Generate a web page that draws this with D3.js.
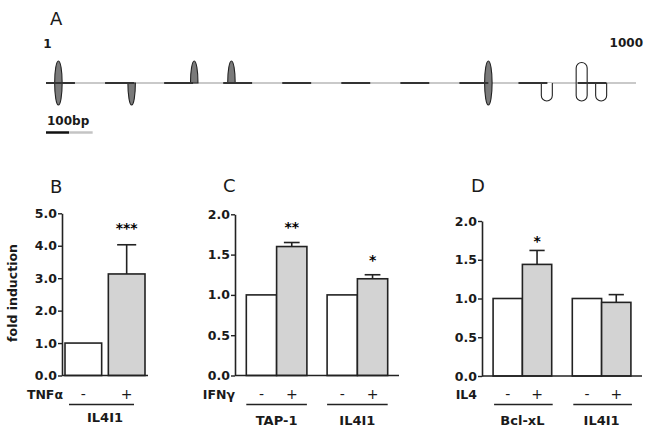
<!DOCTYPE html>
<html><head><meta charset="utf-8">
<script src="https://cdn.jsdelivr.net/npm/d3@7"></script>
<style>body{margin:0;background:#fff} svg{display:block}</style>
</head><body>
<svg id="c" width="649" height="432"></svg>
<script>
// ---------- Panel A data (bp) ----------
const geneRange  = [1, 1000];
const exonStart  = [1, 101, 201, 301, 401, 501, 601, 701, 801, 901];
const exonEnd    = [50, 150, 250, 350, 450, 550, 650, 750, 850, 950];
const motifPos   = [22, 146, 252, 315, 750, 849, 908, 941];
const motifDir   = ["both", "down", "up", "up", "both", "down", "both", "down"];
const motifKind  = ["filled", "filled", "filled", "filled", "filled", "open", "open", "open"];
const scaleBarBp = [1, 40, 80];
const scaleLabel = "100bp";

// ---------- Panel B ----------
const treatLevels = ["-", "+"];
const bGroups = ["IL4I1"];
const bMinus  = [1.0];
const bPlus   = [3.13];
const bPlusErr = [0.9];
const bSig    = ["***"];
const bSigY   = [4.64];
const bTicks  = [0, 1, 2, 3, 4, 5];

// ---------- Panel C ----------
const cGroups = ["TAP-1", "IL4I1"];
const cMinus  = [1.0, 1.0];
const cPlus   = [1.60, 1.20];
const cPlusErr = [0.05, 0.05];
const cSig    = ["**", "*"];
const cSigY   = [1.89, 1.48];
const cTicks  = [0, 0.5, 1, 1.5, 2];

// ---------- Panel D ----------
const dGroups = ["Bcl-xL", "IL4I1"];
const dMinus  = [1.0, 1.0];
const dPlus   = [1.44, 0.95];
const dPlusErr = [0.18, 0.10];
const dSig    = ["*", ""];
const dSigY   = [1.79, 0];
const dTicks  = [0, 0.5, 1, 1.5, 2];

const svg = d3.select("#c");
const FONT = "'DejaVu Sans', sans-serif";
const ink = "#1a1a1a";

// ================= Panel A =================
const xA = d3.scaleLinear().domain(geneRange).range([46, 636]);
const yL = 83;
const gA = svg.append("g");

function motifPath(d, i) {
  const x = xA(d), dir = motifDir[i], kind = motifKind[i];
  if (kind === "filled") {
    const w = 7.5, h = 22, r = w / 2;
    if (dir === "up") return `M${x - r},${yL} A${r},${h} 0 0 1 ${x + r},${yL} Z`;
    if (dir === "down") return `M${x - r},${yL} A${r},${h} 0 0 0 ${x + r},${yL} Z`;
    return `M${x - r},${yL} A${r},${h} 0 0 1 ${x + r},${yL} A${r},${h} 0 0 1 ${x - r},${yL} Z`;
  } else {
    const w = 11, r = w / 2, hu = 20.5, hd = 18;
    const up = `M${x - r},${yL} L${x - r},${yL - hu + r} A${r},${r} 0 0 1 ${x + r},${yL - hu + r} L${x + r},${yL}`;
    const dn = `M${x - r},${yL} L${x - r},${yL + hd - r} A${r},${r} 0 0 0 ${x + r},${yL + hd - r} L${x + r},${yL}`;
    if (dir === "up") return up;
    if (dir === "down") return dn;
    return up + " " + dn;
  }
}

gA.append("line")
  .attr("x1", xA(geneRange[0])).attr("x2", xA(geneRange[1]))
  .attr("y1", yL).attr("y2", yL)
  .attr("stroke", "#c9c9c9").attr("stroke-width", 2);

gA.selectAll("path.motif").data(motifPos).join("path")
  .attr("class", "motif")
  .attr("d", motifPath)
  .attr("fill", (d, i) => motifKind[i] === "filled" ? "#7a7a7a" : "#fff")
  .attr("stroke", "#222").attr("stroke-width", 1.1);

gA.selectAll("line.exon").data(exonStart).join("line")
  .attr("class", "exon")
  .attr("x1", d => xA(d)).attr("x2", (d, i) => xA(exonEnd[i]))
  .attr("y1", yL).attr("y2", yL)
  .attr("stroke", "#333").attr("stroke-width", 2);

gA.append("line")
  .attr("x1", xA(scaleBarBp[0])).attr("x2", xA(scaleBarBp[1]))
  .attr("y1", 132.5).attr("y2", 132.5).attr("stroke", "#111").attr("stroke-width", 2.5);
gA.append("line")
  .attr("x1", xA(scaleBarBp[1])).attr("x2", xA(scaleBarBp[2]))
  .attr("y1", 132.5).attr("y2", 132.5).attr("stroke", "#c4c4c4").attr("stroke-width", 2.5);

gA.append("text").text(scaleLabel).attr("x", xA(scaleBarBp[0]) + 1).attr("y", 125)
  .attr("font-family", FONT).attr("font-weight", "bold").attr("font-size", 12).attr("fill", ink);
gA.append("text").text(geneRange[0]).attr("x", 47.5).attr("y", 48).attr("text-anchor", "middle")
  .attr("font-family", FONT).attr("font-weight", "bold").attr("font-size", 12).attr("fill", ink);
gA.append("text").text(geneRange[1]).attr("x", 643).attr("y", 47).attr("text-anchor", "end")
  .attr("font-family", FONT).attr("font-weight", "bold").attr("font-size", 12).attr("fill", ink);

// Panel letters
[["A", 50, 25], ["B", 50, 193], ["C", 223, 192], ["D", 471, 192]].forEach(([t, x, y]) => {
  svg.append("text").text(t).attr("x", x).attr("y", y)
    .attr("font-family", FONT).attr("font-size", 18).attr("fill", ink);
});

// ================= Bar panels =================
function barPanel(o) {
  const g = svg.append("g");
  const y = d3.scaleLinear().domain([0, d3.max(o.ticks)]).range([o.yBase, o.yTop]);
  const gx = d3.scaleBand().domain(o.groups).range([o.ax, o.ax1])
    .paddingInner(o.pi).paddingOuter(o.po);
  const sx = d3.scaleBand().domain(treatLevels).range([0, gx.bandwidth()]).paddingInner(o.si);
  const bw = sx.bandwidth();

  const rows = [];
  o.groups.forEach((grp, i) => {
    rows.push({grp, t: "-", v: o.minus[i], e: 0});
    rows.push({grp, t: "+", v: o.plus[i], e: o.plusErr[i]});
  });

  // bars
  g.selectAll("rect").data(rows).join("rect")
    .attr("x", d => gx(d.grp) + sx(d.t))
    .attr("y", d => y(d.v))
    .attr("width", bw)
    .attr("height", d => y(0) - y(d.v))
    .attr("fill", d => d.t === "+" ? "#d3d3d3" : "#fff")
    .attr("stroke", "#222").attr("stroke-width", 1.6);

  // error bars
  const er = rows.filter(d => d.e > 0);
  g.selectAll("line.ev").data(er).join("line").attr("class", "ev")
    .attr("x1", d => gx(d.grp) + sx(d.t) + bw / 2).attr("x2", d => gx(d.grp) + sx(d.t) + bw / 2)
    .attr("y1", d => y(d.v)).attr("y2", d => y(d.v + d.e))
    .attr("stroke", "#222").attr("stroke-width", 1.6);
  g.selectAll("line.ec").data(er).join("line").attr("class", "ec")
    .attr("x1", d => gx(d.grp) + sx(d.t) + bw / 2 - bw * 0.26)
    .attr("x2", d => gx(d.grp) + sx(d.t) + bw / 2 + bw * 0.26)
    .attr("y1", d => y(d.v + d.e)).attr("y2", d => y(d.v + d.e))
    .attr("stroke", "#222").attr("stroke-width", 1.6);

  // significance stars
  const fs = 14;
  g.selectAll("text.sig").data(o.groups).join("text").attr("class", "sig")
    .text((d, i) => o.sig[i])
    .attr("x", d => gx(d) + sx("+") + bw / 2)
    .attr("y", (d, i) => y(o.sigY[i]) + 0.6 * fs)
    .attr("text-anchor", "middle")
    .attr("font-family", FONT).attr("font-weight", "bold").attr("font-size", fs).attr("fill", "#000");

  // y axis
  const ya = g.append("g").attr("transform", `translate(${o.ax},0)`)
    .call(d3.axisLeft(y).tickValues(o.ticks).tickFormat(d3.format(".1f"))
      .tickSize(4).tickPadding(1).tickSizeOuter(0));
  ya.select(".domain").attr("stroke", "#222").attr("stroke-width", 1.6);
  ya.selectAll(".tick line").attr("stroke", "#222").attr("stroke-width", 1.4);
  ya.selectAll(".tick text").attr("font-family", FONT).attr("font-weight", "bold")
    .attr("font-size", 12.5).attr("fill", ink);

  // x axis baseline
  g.append("line").attr("x1", o.ax).attr("x2", o.ax1).attr("y1", y(0)).attr("y2", y(0))
    .attr("stroke", "#222").attr("stroke-width", 1.6);

  // treatment label
  g.append("text").text(o.treat).attr("x", o.ax + o.treatDx).attr("y", 399)
    .attr("text-anchor", "end")
    .attr("font-family", FONT).attr("font-weight", "bold").attr("font-size", 12.5).attr("fill", ink);

  // -/+ signs
  g.selectAll("text.sign").data(rows).join("text").attr("class", "sign")
    .text(d => d.t)
    .attr("x", d => gx(d.grp) + sx(d.t) + bw / 2)
    .attr("y", 399)
    .attr("text-anchor", "middle")
    .attr("font-family", FONT).attr("font-size", 14).attr("fill", ink);

  // underline and group labels
  g.selectAll("line.ul").data(o.groups).join("line").attr("class", "ul")
    .attr("x1", d => gx(d) + o.ulIn[0]).attr("x2", d => gx(d) + gx.bandwidth() - o.ulIn[1])
    .attr("y1", 404.5).attr("y2", 404.5)
    .attr("stroke", "#222").attr("stroke-width", 1.3);
  g.selectAll("text.gl").data(o.groups).join("text").attr("class", "gl")
    .text(d => d)
    .attr("x", d => gx(d) + gx.bandwidth() / 2)
    .attr("y", o.labelY)
    .attr("text-anchor", "middle")
    .attr("font-family", FONT).attr("font-weight", "bold").attr("font-size", 13).attr("fill", ink);
}

barPanel({
  groups: bGroups, minus: bMinus, plus: bPlus, plusErr: bPlusErr, sig: bSig, sigY: bSigY,
  ticks: bTicks, treat: "TNFα",
  yBase: 375.5, yTop: 213.3, ax: 62, ax1: 148, pi: 0, po: 0.0375, si: 0.154,
  treatDx: 1, ulIn: [4, 11], labelY: 422
});
barPanel({
  groups: cGroups, minus: cMinus, plus: cPlus, plusErr: cPlusErr, sig: cSig, sigY: cSigY,
  ticks: cTicks, treat: "IFNγ",
  yBase: 375.5, yTop: 214.3, ax: 235, ax1: 399, pi: 0.25, po: 0.14, si: 0,
  treatDx: 0, ulIn: [0, 0], labelY: 425
});
barPanel({
  groups: dGroups, minus: dMinus, plus: dPlus, plusErr: dPlusErr, sig: dSig, sigY: dSigY,
  ticks: dTicks, treat: "IL4",
  yBase: 376, yTop: 221, ax: 482, ax1: 642, pi: 0.26, po: 0.14, si: 0,
  treatDx: -5, ulIn: [1, -1], labelY: 425
});

// y-axis title
svg.append("text").text("fold induction")
  .attr("transform", "translate(17,293) rotate(-90)")
  .attr("text-anchor", "middle")
  .attr("font-family", FONT).attr("font-weight", "bold").attr("font-size", 12.5).attr("fill", ink);
</script>
</body></html>
